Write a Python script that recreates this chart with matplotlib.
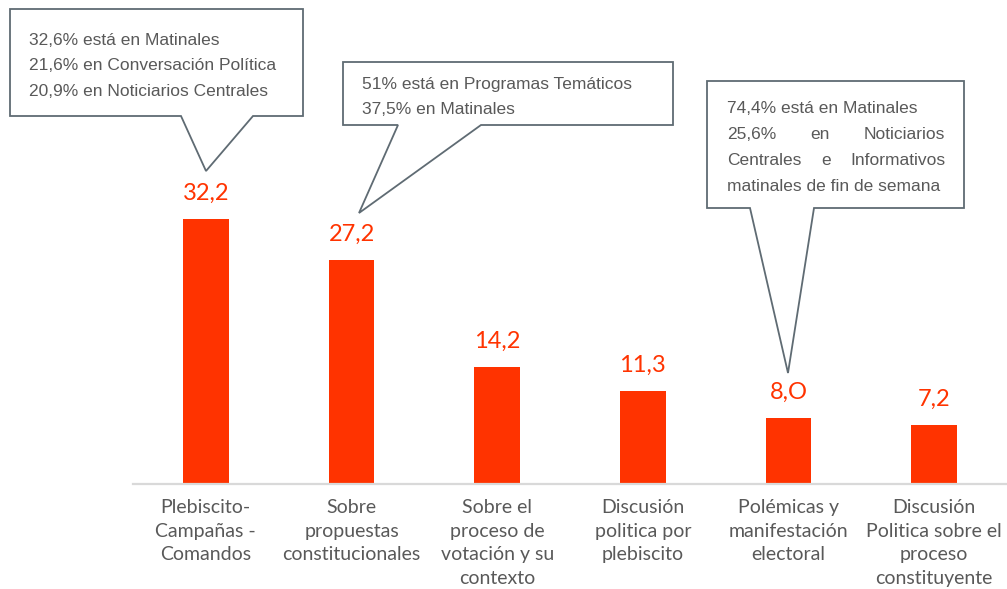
import matplotlib
matplotlib.use("Agg")
import matplotlib.pyplot as plt
from matplotlib import font_manager as fm
from matplotlib.patches import Polygon

# datos
categorias = [
    "Plebiscito-\nCampañas -\nComandos",
    "Sobre\npropuestas\nconstitucionales",
    "Sobre el\nproceso de\nvotación y su\ncontexto",
    "Discusión\npolitica por\nplebiscito",
    "Polémicas y\nmanifestación\nelectoral",
    "Discusión\nPolitica sobre el\nproceso\nconstituyente",
]
valores = [32.2, 27.2, 14.2, 11.3, 8.0, 7.2]
etiquetas = ["32,2", "27,2", "14,2", "11,3", "8,O", "7,2"]

nota1 = ["32,6% está en Matinales",
         "21,6% en Conversación Política",
         "20,9% en Noticiarios Centrales"]
nota2 = ["51% está en Programas Temáticos",
         "37,5% en Matinales"]
nota3 = ["74,4% está en Matinales",
         "25,6% en Noticiarios",
         "Centrales e Informativos",
         "matinales de fin de semana"]

ROJO = "#FF3300"
GRIS = "#595959"
BORDE = "#5f6b73"
W, H = 1007, 589

nombres = {f.name for f in fm.fontManager.ttflist}
if "Liberation Sans Narrow" in nombres:
    f_nota, t_nota = "Liberation Sans Narrow", 15
else:
    f_nota, t_nota = "Liberation Sans", 12.5

fig = plt.figure(figsize=(W / 100, H / 100), dpi=100)
ax = fig.add_axes([133 / W, 105 / H, 874 / W, 484 / H])

x = list(range(len(valores)))
barras = ax.bar(x, valores, width=0.315, color=ROJO)
ax.set_xlim(-0.5, 5.5)
ax.set_ylim(0, 58.7)

for xi, v, t in zip(x, valores, etiquetas):
    ax.annotate(t, (xi, v), xytext=(0, 13.5), textcoords="offset points",
                ha="center", va="baseline", color=ROJO, fontsize=17,
                family="Lato")

ax.set_xticks(x)
ax.set_xticklabels(categorias, family="Lato", fontsize=14, color=GRIS,
                   linespacing=1.47)
ax.tick_params(axis="x", length=0, pad=11)
ax.set_yticks([])
for s in ["top", "left", "right"]:
    ax.spines[s].set_visible(False)
ax.spines["bottom"].set_color("#d9d9d9")
ax.spines["bottom"].set_linewidth(1.6)


# globos (coordenadas en pixeles de la figura)
def px(xp, yp):
    return (xp / W, 1 - yp / H)


def globo(x0, y0, x1, y1, b0, b1, tip):
    pts = [(x0, y0), (x1, y0), (x1, y1), (b1, y1), tip, (b0, y1), (x0, y1)]
    fig.patches.append(Polygon([px(*p) for p in pts], closed=True,
                               transform=fig.transFigure, facecolor="white",
                               edgecolor=BORDE, linewidth=1.3, zorder=3))


def texto(xp, yp, s, ha="left"):
    return fig.text(*px(xp, yp), s, ha=ha, va="baseline", color=GRIS,
                    family=f_nota, fontsize=t_nota, zorder=4)


globo(10, 9, 303, 116, 181, 253, (206, 171))
for i, l in enumerate(nota1):
    texto(29, 45 + i * 25.5, l)

globo(343, 62, 673, 125, 398, 481, (359, 213))
for i, l in enumerate(nota2):
    texto(362, 89 + i * 25.5, l)

globo(707, 81, 964, 208, 750, 814, (788, 373))
izq, der = 727, 945
justif = []
for i, l in enumerate(nota3):
    yb = 113 + i * 26
    if i in (1, 2):
        palabras = l.split()
        a = texto(izq, yb, palabras[0])
        m = texto(izq, yb, palabras[1], ha="center")
        b = texto(der, yb, palabras[2], ha="right")
        justif.append((a, m, b, yb))
    else:
        texto(izq, yb, l)

fig.canvas.draw()
r = fig.canvas.get_renderer()
for a, m, b, yb in justif:
    wa = a.get_window_extent(r).width
    wm = m.get_window_extent(r).width
    wb = b.get_window_extent(r).width
    hueco = (der - izq - wa - wm - wb) / 2
    m.set_position(px(izq + wa + hueco + wm / 2, yb))

fig.savefig("out.png", dpi=100)
